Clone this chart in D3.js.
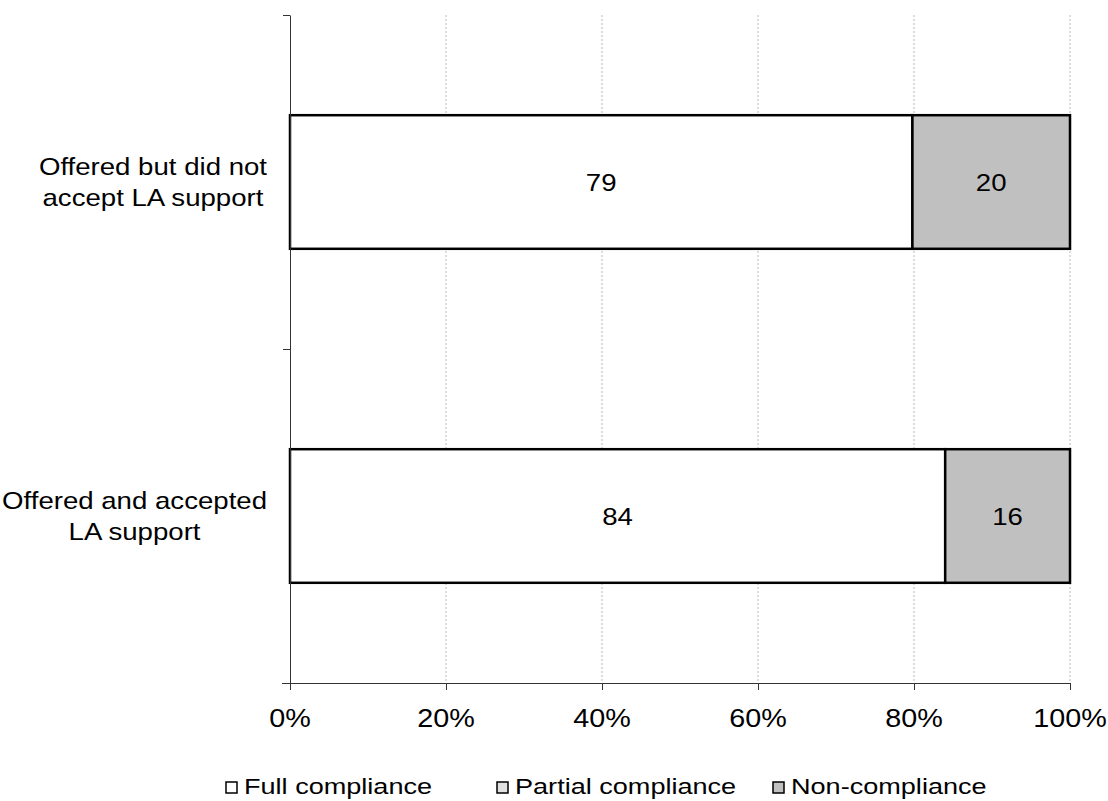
<!DOCTYPE html>
<html><head><meta charset="utf-8">
<script src="https://cdn.jsdelivr.net/npm/d3@7"></script>
<style>body{margin:0;background:#fff}</style></head><body>
<svg id="c" width="1108" height="801"></svg>
<script>
const categories = ["Offered but did not accept LA support", "Offered and accepted LA support"];
const categoryLines = [["Offered but did not", "accept LA support"], ["Offered and accepted", "LA support"]];
const seriesNames = ["Full compliance", "Partial compliance", "Non-compliance"];
const fullCompliance = [79, 84];
const partialCompliance = [0, 0];
const nonCompliance = [20, 16];
const xTicks = [0, 0.2, 0.4, 0.6, 0.8, 1];
const xTickLabels = ["0%", "20%", "40%", "60%", "80%", "100%"];
const colors = ["#ffffff", "#e0e0e0", "#c0c0c0"];

const FONT = "'Liberation Sans', Arial, sans-serif";
const HS = 1.15; // horizontal stretch of text

const svg = d3.select("#c");
const mLeft = 290, mRight = 1070, mTop = 15, mBottom = 683;

const rows = categories.map((c, i) => ({
  cat: c,
  "Full compliance": fullCompliance[i],
  "Partial compliance": partialCompliance[i],
  "Non-compliance": nonCompliance[i]
}));
const stack = d3.stack().keys(seriesNames).offset(d3.stackOffsetExpand);
const layers = stack(rows);

const x = d3.scaleLinear().domain([0, 1]).range([mLeft, mRight]);
const y = d3.scaleBand().domain(categories).range([mTop, mBottom]).paddingInner(0.6).paddingOuter(0.3);

function stretchedText(g, px, py, txt, size, anchor, hs) {
  return g.append("g").attr("transform", `translate(${px},${py}) scale(${hs || HS},1)`)
    .append("text").attr("font-family", FONT).attr("font-size", size)
    .attr("text-anchor", anchor).attr("dominant-baseline", "central").attr("fill", "#000").text(txt);
}

// gridlines
svg.append("g").selectAll("line").data(xTicks.filter(d => d > 0)).join("line")
  .attr("x1", d => x(d)).attr("x2", d => x(d)).attr("y1", mTop).attr("y2", mBottom)
  .attr("stroke", "#b8b8b8").attr("stroke-width", 1).attr("stroke-dasharray", "2,2");

// bars
const gBars = svg.append("g");
layers.forEach((layer, li) => {
  gBars.append("g").selectAll("rect").data(layer.filter(d => d[1] - d[0] > 0)).join("rect")
    .attr("x", d => x(d[0])).attr("width", d => x(d[1]) - x(d[0]))
    .attr("y", d => y(d.data.cat)).attr("height", y.bandwidth())
    .attr("fill", colors[li]).attr("stroke", "#000").attr("stroke-width", 2.5);
});
// value labels
const gLab = svg.append("g");
layers.forEach((layer, li) => {
  layer.forEach(d => {
    const v = d.data[seriesNames[li]];
    if (v > 0) stretchedText(gLab, x((d[0] + d[1]) / 2), y(d.data.cat) + y.bandwidth() / 2 + 1, v, 24, "middle");
  });
});

// x axis
const xAxis = d3.axisBottom(x).tickValues(xTicks).tickFormat("").tickSize(7).tickSizeOuter(0);
const gx = svg.append("g").attr("transform", `translate(0,${mBottom})`).call(xAxis);
gx.select(".domain").attr("stroke", "#333").attr("d", `M${mLeft - 8},0.5H${mRight}`);
gx.selectAll(".tick line").attr("stroke", "#333");
xTicks.forEach((t, i) => stretchedText(svg, x(t), 719, xTickLabels[i], 25, "middle"));

// y axis (ticks at category boundaries)
const yb = d3.scaleLinear().domain([0, categories.length]).range([mBottom, mTop]);
const yAxis = d3.axisLeft(yb).ticks(categories.length).tickFormat("").tickSize(7).tickSizeOuter(0);
const gy = svg.append("g").attr("transform", `translate(${mLeft},0)`).call(yAxis);
gy.select(".domain").attr("stroke", "#333");
gy.selectAll(".tick line").attr("stroke", "#333");

// category labels: block right-aligned, lines centred within block
const labelRight = 267;
categories.forEach((c, i) => {
  const cy = y(c) + y.bandwidth() / 2;
  const lines = categoryLines[i];
  const texts = lines.map((ln, j) =>
    stretchedText(svg, 0, cy + (j - (lines.length - 1) / 2) * 31, ln, 24, "middle"));
  const maxW = d3.max(texts, t => t.node().getComputedTextLength()) * HS;
  const cx = labelRight - maxW / 2;
  texts.forEach((t, j) => d3.select(t.node().parentNode)
    .attr("transform", `translate(${cx},${cy + (j - (lines.length - 1) / 2) * 31}) scale(${HS},1)`));
});

// legend
const legendX = [226, 497, 773];
seriesNames.forEach((s, i) => {
  svg.append("rect").attr("x", legendX[i]).attr("y", 782).attr("width", 11).attr("height", 11)
    .attr("fill", colors[i]).attr("stroke", "#000").attr("stroke-width", 1.5);
  stretchedText(svg, legendX[i] + 18, 787, s, 21.5, "start", 1.26);
});
</script>
</body></html>
